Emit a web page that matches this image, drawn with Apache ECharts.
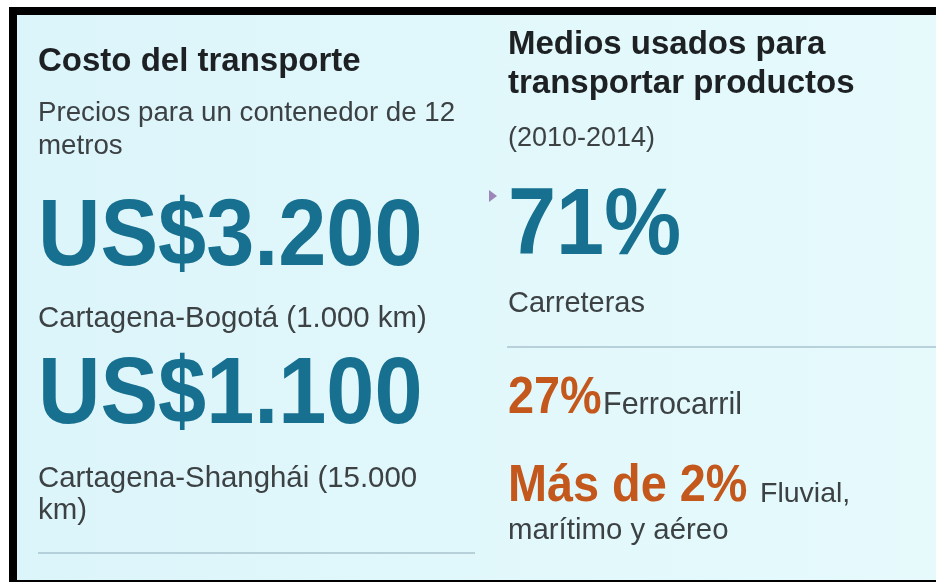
<!DOCTYPE html>
<html>
<head>
<meta charset="utf-8">
<script src="https://cdn.jsdelivr.net/npm/echarts@6/dist/echarts.min.js"></script>
<style>
  html, body { margin: 0; padding: 0; background: #fff; }
  #chart { width: 936px; height: 582px; }
</style>
</head>
<body>
<div id="chart"></div>
<script>
// textos del panel izquierdo
var costTitle = 'Costo del transporte';
var costSubtitle = ['Precios para un contenedor de 12', 'metros'];
var costValues = ['US$3.200', 'US$1.100'];
var costRoutes = [['Cartagena-Bogotá (1.000 km)'], ['Cartagena-Shanghái (15.000', 'km)']];

// textos del panel derecho
var shareTitle = ['Medios usados para', 'transportar productos'];
var sharePeriod = '(2010-2014)';
var shareValues = ['71%', '27%', 'Más de 2%'];
var shareModes = [['Carreteras'], ['Ferrocarril'], ['Fluvial,', 'marítimo y aéreo']];

var FONT = '"Liberation Sans", Arial, Helvetica, sans-serif';
var BLUE = '#17708f';
var ORANGE = '#c4581c';
var DARK = '#1d2124';
var GREY = '#3c4144';

var chart = echarts.init(document.getElementById('chart'));
var els = [];

// texto con la linea base en y
function txt(s, x, base, size, color, bold, sx) {
    els.push({
        type: 'text',
        x: x,
        y: base - 0.81 * size,
        scaleX: sx || 1,
        style: {
            x: 0, y: 0,
            text: s,
            font: (bold ? 'bold ' : '') + size + 'px ' + FONT,
            fill: color,
            lineHeight: size,
            verticalAlign: 'top'
        }
    });
}

// fondo y marco negro
els.push({ type: 'rect', shape: { x: 0, y: 0, width: 936, height: 582 }, style: { fill: '#ffffff' } });
els.push({
    type: 'rect', shape: { x: 17, y: 15, width: 919, height: 565 },
    style: {
        fill: new echarts.graphic.LinearGradient(0, 0, 1, 0, [
            { offset: 0, color: '#dcf5fa' },
            { offset: 1, color: '#e6fafc' }
        ])
    }
});
els.push({ type: 'rect', shape: { x: 9, y: 7, width: 927, height: 8 }, style: { fill: '#000' } });
els.push({ type: 'rect', shape: { x: 9, y: 7, width: 8, height: 575 }, style: { fill: '#000' } });
els.push({ type: 'rect', shape: { x: 9, y: 580, width: 927, height: 2 }, style: { fill: '#000' } });

// panel izquierdo
var lx = 38;
txt(costTitle, lx, 72, 33, DARK, true);
txt(costSubtitle[0], lx, 122, 27.7, GREY);
txt(costSubtitle[1], lx, 155, 27.7, GREY);
txt(costValues[0], lx, 268, 95, BLUE, true, 0.91);
txt(costRoutes[0][0], lx, 328, 29.4, GREY);
txt(costValues[1], lx, 426, 95, BLUE, true, 0.91);
txt(costRoutes[1][0], lx, 488, 29.4, GREY);
txt(costRoutes[1][1], lx, 520, 29.4, GREY);
els.push({ type: 'line', shape: { x1: 38, y1: 553, x2: 475, y2: 553 }, style: { stroke: '#a9c3cf', lineWidth: 1.5 } });

// flechita del cursor
els.push({ type: 'polygon', shape: { points: [[489, 190], [497, 196], [489, 202]] }, style: { fill: '#9c86b8' } });

// panel derecho
var rx = 508;
txt(shareTitle[0], rx, 55, 33, DARK, true);
txt(shareTitle[1], rx, 94, 33, DARK, true);
txt(sharePeriod, rx, 147, 27, GREY);
txt(shareValues[0], rx, 257, 95, BLUE, true, 0.91);
txt(shareModes[0][0], rx, 313, 29, GREY);
els.push({ type: 'line', shape: { x1: 507, y1: 347, x2: 936, y2: 347 }, style: { stroke: '#a9c3cf', lineWidth: 1.5 } });
txt(shareValues[1], rx, 415, 52, ORANGE, true, 0.9);
txt(shareModes[1][0], 603, 415, 30.5, GREY);
txt(shareValues[2], rx, 503, 52, ORANGE, true, 0.9);
txt(shareModes[2][0], 760, 503, 28.5, GREY);
txt(shareModes[2][1], rx, 540, 29.4, GREY);

chart.setOption({
    animation: false,
    graphic: { elements: els }
});
</script>
</body>
</html>
